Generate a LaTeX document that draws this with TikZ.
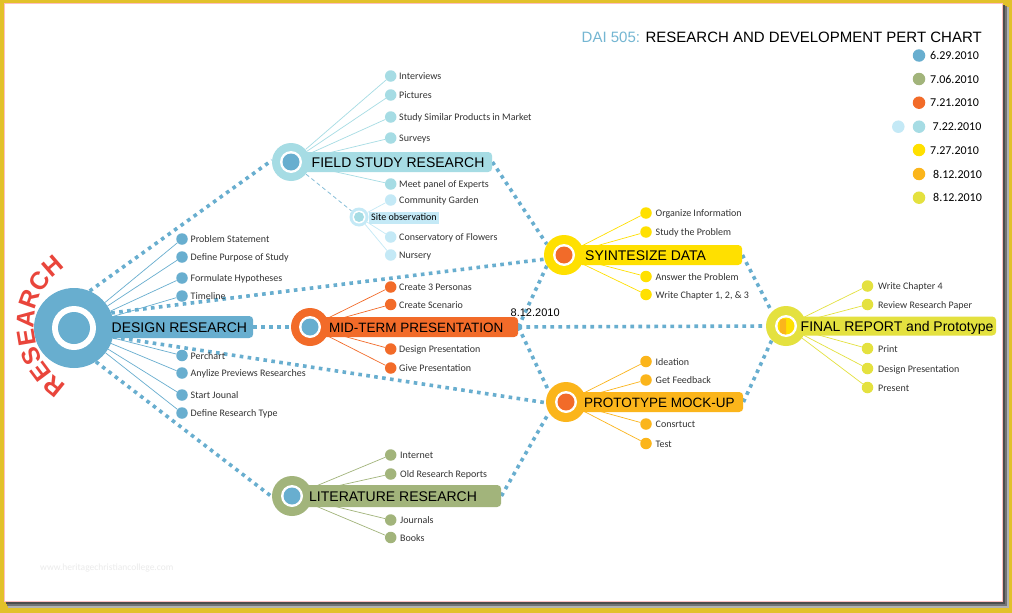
\documentclass[tikz,border=0pt]{standalone}
\usepackage{fontspec}
\usetikzlibrary{decorations.text}
\newfontfamily\arialf{Liberation Sans}
\newfontfamily\calf{Carlito}
\definecolor{cframe}{HTML}{E2C12A}
\definecolor{cblue}{HTML}{68AECF}
\definecolor{ccyan}{HTML}{A6DCE4}
\definecolor{cpale}{HTML}{C4E9F6}
\definecolor{corange}{HTML}{F26B29}
\definecolor{cyellow}{HTML}{FFE000}
\definecolor{camber}{HTML}{FBB51B}
\definecolor{clime}{HTML}{E4E13F}
\definecolor{colive}{HTML}{A2B47B}
\definecolor{rred}{HTML}{E9453B}
\definecolor{ctitle}{HTML}{74B6D2}
\definecolor{ctext}{HTML}{333333}
\pgfdeclarelayer{back}
\pgfdeclarelayer{links}
\pgfsetlayers{back,links,main}
\begin{document}
\begin{tikzpicture}[x=1pt,y=-1pt,
  hub/.style={circle, inner sep=0pt, minimum size=#1},
  kid/.style={circle, inner sep=0pt, minimum size=11.5pt},
  kidtxt/.style={anchor=base west, inner sep=0pt, text=ctext, font=\calf\fontsize{10}{12}\selectfont},
  bar/.style={anchor=west, rounded corners=4pt, inner sep=0pt, minimum height=20pt},
  lab/.style={anchor=west, inner sep=0pt, text height=10pt, text depth=0pt, text=black},
  bigtxt/.style={font=\arialf\fontsize{14}{16}\selectfont},
  midtxt/.style={font=\arialf\fontsize{13.5}{16}\selectfont},
  link/.style={draw=cblue, line width=3.6pt, dash pattern=on 3.6pt off 4.4pt},
  thin/.style={line width=.7pt}
]
\useasboundingbox (0,0) rectangle (1012,613);
\begin{pgfonlayer}{back}
  \fill[cframe] (0,0) rectangle (1012,613);
  \fill[black!30] (8,7) rectangle (1009,608);
  \fill[black!55] (7,6) rectangle (1007,606);
  \fill[black!70] (6,5) rectangle (1005,604);
  \filldraw[fill=white, draw=red!25, line width=.6pt] (4,3) rectangle (1002,601);
\end{pgfonlayer}

% title and legend
\node[anchor=base west, inner sep=0pt, font=\arialf\fontsize{15}{18}\selectfont] (title) at (581.5,42)
  {\textcolor{ctitle}{DAI 505:} RESEARCH AND DEVELOPMENT PERT CHART};
\foreach \n/\y/\c/\x/\t in {g1/55.5/cblue/930/6.29.2010, g2/79/colive/930/7.06.2010, g3/102.7/corange/930/7.21.2010,
  g4/126.7/ccyan/932.5/7.22.2010, g5/150/cyellow/930/7.27.2010, g6/174/camber/933/8.12.2010, g7/197.7/clime/933/8.12.2010}{
  \node[hub=12.5pt, fill=\c] (\n) at (919,\y) {};
  \node[anchor=base west, inner sep=0pt, font=\calf\fontsize{12}{14}\selectfont] (\n-t) at (\x,\y+4.2) {\t};
}
\node[hub=12.5pt, fill=cpale] (g4b) at (898.3,126.7) {};

% watermark
\node[anchor=west, inner sep=0pt, text=black!8, font=\calf\fontsize{9.5}{11}\selectfont] (wm) at (40,568) {www.heritagechristiancollege.com};

% RESEARCH arc
\path[decorate, decoration={text along path, text align=center,
  text={|\arialf\bfseries\fontsize{25}{25}\selectfont\color{rred}|RESEARCH}}]
  (104,325) ++(104:70) arc[start angle=104, end angle=254, radius=70];

% children
\foreach \n/\y/\t in {d1/239/Problem Statement, d2/257/Define Purpose of Study, d3/278/Formulate Hypotheses,
  d4/296/Timeline, d5/355.5/Perchart, d6/373/Anylize Previews Researches, d7/395/Start Jounal, d8/413/Define Research Type}{
  \node[kid, fill=cblue] (\n) at (182,\y) {};
  \node[kidtxt] (\n-t) at (190.5,\y+3.5) {\t};
}
\foreach \n/\y/\t in {f1/76/Interviews, f2/95/Pictures, f3/117/Study Similar Products in Market, f4/138/Surveys, f5/184/Meet panel of Experts}{
  \node[kid, fill=ccyan] (\n) at (390.7,\y) {};
  \node[kidtxt] (\n-t) at (399,\y+3.5) {\t};
}
\foreach \n/\y/\t in {s1/200/Community Garden, s2/237/Conservatory of Flowers, s3/255/Nursery}{
  \node[kid, fill=cpale] (\n) at (390.7,\y) {};
  \node[kidtxt] (\n-t) at (399,\y+3.5) {\t};
}
\foreach \n/\y/\t in {m1/287/Create 3 Personas, m2/304.5/Create Scenario, m3/349/Design Presentation, m4/368/Give Presentation}{
  \node[kid, fill=corange] (\n) at (390.7,\y) {};
  \node[kidtxt] (\n-t) at (399,\y+3.5) {\t};
}
\foreach \n/\y/\t in {y1/213/Organize Information, y2/232/Study the Problem, y3/276.5/Answer the Problem, y4/294.5/{Write Chapter 1, 2, \& 3}}{
  \node[kid, fill=cyellow] (\n) at (646,\y) {};
  \node[kidtxt] (\n-t) at (655.5,\y+3.5) {\t};
}
\foreach \n/\y/\t in {p1/361.5/Ideation, p2/380/Get Feedback, p3/424/Consrtuct, p4/443.5/Test}{
  \node[kid, fill=camber] (\n) at (646,\y) {};
  \node[kidtxt] (\n-t) at (655.5,\y+3.5) {\t};
}
\foreach \n/\y/\t in {r1/286/Write Chapter 4, r2/304.5/Review Research Paper, r3/348.5/Print, r4/368.5/Design Presentation, r5/387.5/Present}{
  \node[kid, fill=clime] (\n) at (867.5,\y) {};
  \node[kidtxt] (\n-t) at (878,\y+3.5) {\t};
}
\foreach \n/\y/\t in {l1/455/Internet, l2/474/Old Research Reports, l3/520/Journals, l4/537.5/Books}{
  \node[kid, fill=colive] (\n) at (390.7,\y) {};
  \node[kidtxt] (\n-t) at (400,\y+3.5) {\t};
}

% label bars (shapes)
\node[bar, fill=cblue, minimum height=22pt, minimum width=149pt] (Dbar) at (104,327) {};
\node[bar, fill=ccyan, minimum width=189pt] (Fbar) at (303,162) {};
\node[bar, fill=corange, minimum width=198pt] (Mbar) at (320,327) {};
\node[bar, fill=cyellow, minimum width=164pt] (Sbar) at (578,255) {};
\node[bar, fill=camber, minimum width=167pt] (Pbar) at (576,402) {};
\node[bar, fill=colive, minimum height=22pt, minimum width=199pt] (Lbar) at (302,496) {};
\node[bar, fill=clime, minimum height=19pt, minimum width=201pt] (Rbar) at (795,326) {};
\node[anchor=west, fill=cpale, inner xsep=2.5pt, inner ysep=0pt, minimum height=11.5pt, text height=7pt, text depth=1.8pt,
  text=black, font=\calf\fontsize{10}{12}\selectfont] (Obar) at (368.5,218) {Site observation};

% hubs
\node[hub=80pt, fill=cblue] (D) at (74,328) {};
\node[hub=44pt, fill=white] (Dw) at (D) {};
\node[hub=32pt, fill=cblue] (Di) at (D) {};
\node[hub=38pt, fill=ccyan] (F) at (291,162) {};
\node[hub=22pt, fill=white] (Fw) at (F) {};
\node[hub=17pt, fill=cblue] (Fi) at (F) {};
\node[hub=38pt, fill=corange] (M) at (310,327) {};
\node[hub=22pt, fill=white] (Mw) at (M) {};
\node[hub=17pt, fill=cblue] (Mi) at (M) {};
\node[hub=40pt, fill=cyellow] (S) at (564,255) {};
\node[hub=22pt, fill=white] (Sw) at (S) {};
\node[hub=17pt, fill=corange] (Si) at (S) {};
\node[hub=40pt, fill=camber] (P) at (566,402) {};
\node[hub=22pt, fill=white] (Pw) at (P) {};
\node[hub=17pt, fill=corange] (Pi) at (P) {};
\node[hub=40pt, fill=colive] (L) at (292,496) {};
\node[hub=22pt, fill=white] (Lw) at (L) {};
\node[hub=17pt, fill=cblue] (Li) at (L) {};
\node[hub=40pt, fill=clime] (R) at (786,326) {};
\node[hub=22pt, fill=white] (Rw) at (R) {};
\node[hub=17pt, fill=cyellow] (Ri) at (R) {};
\begin{scope}
  \clip (Ri.north west) rectangle (Ri.south);
  \fill[camber] (Ri) circle[radius=8.5pt];
\end{scope}
\node[hub=19pt, fill=cpale] (O) at (359,217) {};
\node[hub=13pt, fill=white] (Ow) at (O) {};
\node[hub=10pt, fill=ccyan] (Oi) at (O) {};

% bar labels (over the hubs)
\node[lab, bigtxt] (Dlab) at (111.5,327) {DESIGN RESEARCH};
\node[lab, bigtxt] (Flab) at (311.5,162) {FIELD STUDY RESEARCH};
\node[lab, midtxt] (Mlab) at (329,327) {MID-TERM PRESENTATION};
\node[lab, bigtxt] (Slab) at (585,255) {SYINTESIZE DATA};
\node[lab, midtxt] (Plab) at (584,402) {PROTOTYPE MOCK-UP};
\node[lab, bigtxt] (Llab) at (309,496) {LITERATURE RESEARCH};
\node[lab, bigtxt] (Rlab) at (800.5,326) {FINAL REPORT and Prototype};

% connectors
\begin{pgfonlayer}{links}
  \foreach \n in {d1,d2,d3,d4,d5,d6,d7,d8} \draw[cblue, thin] (D) -- (\n);
  \foreach \n in {f1,f2,f3,f4,f5} \draw[ccyan, thin] (F) -- (\n);
  \foreach \n in {s1,s2,s3} \draw[cpale, thin] (O) -- (\n);
  \foreach \n in {m1,m2,m3,m4} \draw[corange, thin] (M) -- (\n);
  \foreach \n in {y1,y2,y3,y4} \draw[cyellow, thin] (S) -- (\n);
  \foreach \n in {p1,p2,p3,p4} \draw[camber, thin] (P) -- (\n);
  \foreach \n in {r1,r2,r3,r4,r5} \draw[clime, thin] (R) -- (\n);
  \foreach \n in {l1,l2,l3,l4} \draw[colive, thin] (L) -- (\n);
  \draw[cblue!80, line width=.8pt, dash pattern=on 4pt off 3pt] (F) -- (O);
  \draw[link] (D.67) -- (F.175);
  \draw[link] (D.22) -- (S.192);
  \draw[link] (Dbar.east) -- (M.west);
  \draw[link] (D.-13) -- (P.182);
  \draw[link] (D.-57) -- (L.182);
  \draw[link] (Fbar.east) -- (S.148);
  \draw[link] (Mbar.east) -- (S.212);
  \draw[link] (Mbar.east) -- (P.148);
  \draw[link] (Mbar.east) -- (R.west);
  \draw[link] (Sbar.east) -- (R.135);
  \draw[link] (Pbar.east) -- (R.225);
  \draw[link] (Lbar.east) -- (P.212);
\end{pgfonlayer}

\node[anchor=base west, inner sep=0pt, font=\arialf\fontsize{11}{13}\selectfont] (date) at (510.5,316.5) {8.12.2010};
\end{tikzpicture}
\end{document}
